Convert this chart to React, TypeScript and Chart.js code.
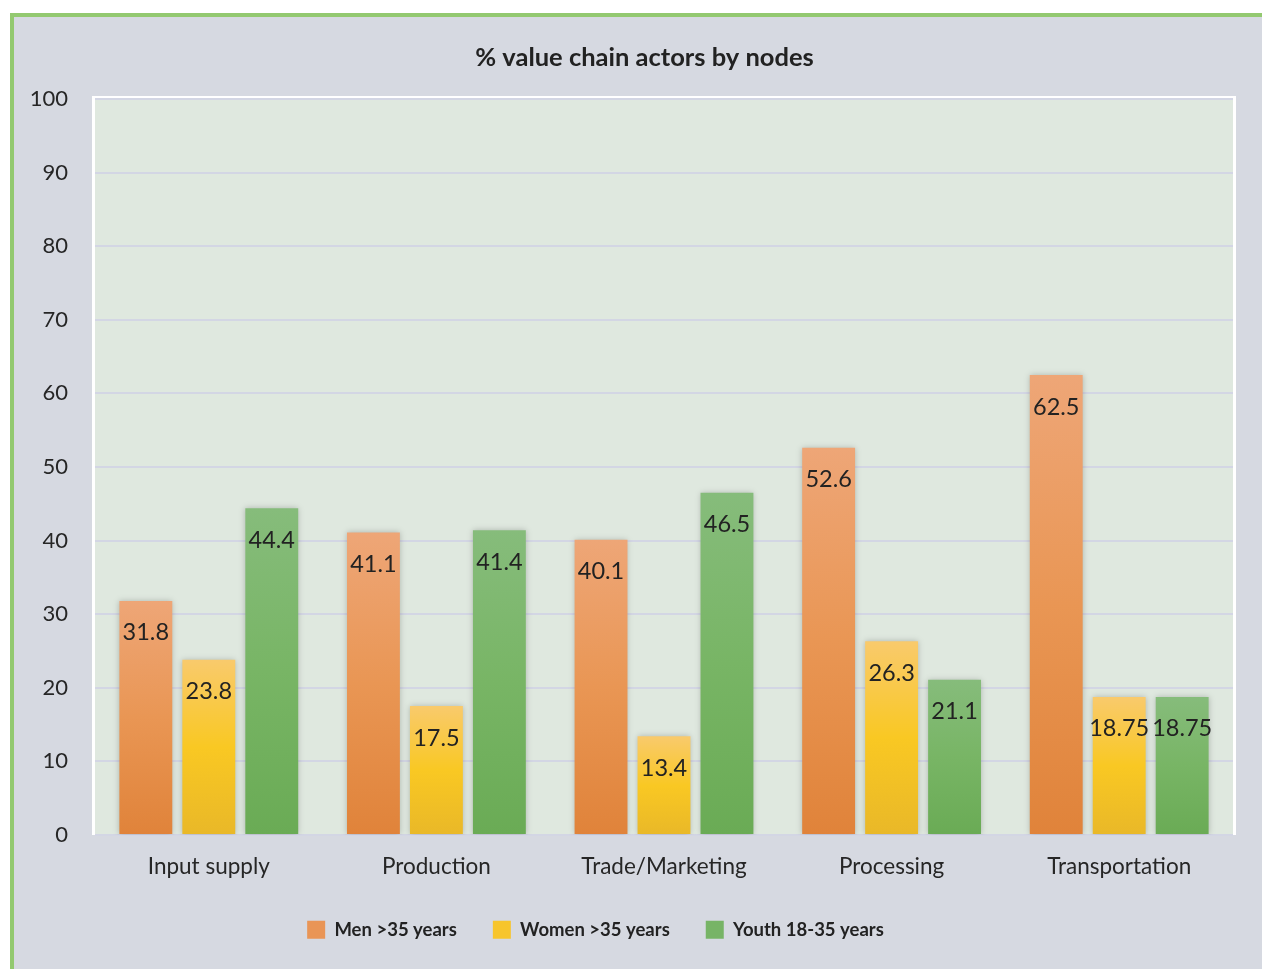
import React, { useEffect, useRef } from "react";
import { Chart, registerables } from "chart.js";

Chart.register(...registerables);

const categories = ["Input supply", "Production", "Trade/Marketing", "Processing", "Transportation"];
const seriesNames = ["Men >35 years", "Women >35 years", "Youth 18-35 years"];
const menValues = [31.8, 41.1, 40.1, 52.6, 62.5];
const womenValues = [23.8, 17.5, 13.4, 26.3, 18.75];
const youthValues = [44.4, 41.4, 46.5, 21.1, 18.75];
const yTicks = [0, 10, 20, 30, 40, 50, 60, 70, 80, 90, 100];
const chartTitle = "% value chain actors by nodes";

const FONT = "Lato, 'Open Sans', sans-serif";

const gradStops: string[][] = [
  ["#eea677", "#e99654", "#e0833a"],
  ["#f9ca6c", "#f9c823", "#e9b828"],
  ["#86bc7b", "#78b565", "#6aab55"],
];
const legendColors = ["#e99556", "#f7c52c", "#77b466"];

function barGradient(ctx: any, dsIndex: number) {
  const chart = ctx.chart;
  const area = chart.chartArea;
  if (!area || ctx.type !== "data") return legendColors[dsIndex];
  const yScale = chart.scales.y;
  const v = ctx.raw as number;
  const top = yScale.getPixelForValue(v);
  const bottom = yScale.getPixelForValue(0);
  const g = chart.ctx.createLinearGradient(0, top, 0, bottom);
  const s = gradStops[dsIndex];
  g.addColorStop(0, s[0]);
  g.addColorStop(0.5, s[1]);
  g.addColorStop(1, s[2]);
  return g;
}

const boxShiftPlugin = {
  id: "boxShift",
  afterLayout(chart: any) {
    const t = chart.titleBlock;
    if (t) {
      t.left += 21;
      t.right += 21;
    }
    const l = chart.legend;
    if (l) {
      l.left -= 28;
      l.right -= 28;
    }
  },
};

const plotBgPlugin = {
  id: "plotBg",
  beforeDraw(chart: any) {
    const { ctx, chartArea } = chart;
    ctx.save();
    ctx.fillStyle = "#dfe8df";
    ctx.fillRect(chartArea.left, chartArea.top, chartArea.right - chartArea.left, chartArea.bottom - chartArea.top);
    ctx.strokeStyle = "#ffffff";
    ctx.lineWidth = 3;
    ctx.beginPath();
    ctx.moveTo(chartArea.left - 1.5, chartArea.bottom);
    ctx.lineTo(chartArea.left - 1.5, chartArea.top - 1.5);
    ctx.lineTo(chartArea.right + 1.5, chartArea.top - 1.5);
    ctx.lineTo(chartArea.right + 1.5, chartArea.bottom);
    ctx.stroke();
    ctx.restore();
  },
  beforeDatasetsDraw(chart: any) {
    const ctx = chart.ctx;
    ctx.save();
    ctx.shadowColor = "rgba(0,0,0,0.22)";
    ctx.shadowBlur = 6;
    ctx.shadowOffsetX = 0;
    ctx.shadowOffsetY = 0;
  },
  afterDatasetsDraw(chart: any) {
    chart.ctx.restore();
  },
};

const valueLabelPlugin = {
  id: "valueLabels",
  afterDraw(chart: any) {
    const ctx = chart.ctx;
    ctx.save();
    ctx.font = `23.5px ${FONT}`;
    ctx.fillStyle = "#222222";
    ctx.textAlign = "center";
    ctx.textBaseline = "middle";
    chart.data.datasets.forEach((ds: any, di: number) => {
      const meta = chart.getDatasetMeta(di);
      meta.data.forEach((bar: any, i: number) => {
        ctx.fillText(String(ds.data[i]), bar.x, bar.y + 32);
      });
    });
    ctx.restore();
  },
};

export default function App() {
  const ref = useRef<HTMLCanvasElement | null>(null);
  useEffect(() => {
    if (!ref.current) return;
    const values = [menValues, womenValues, youthValues];
    const chart = new Chart(ref.current, {
      type: "bar",
      data: {
        labels: categories,
        datasets: values.map((d, di) => ({
          label: seriesNames[di],
          data: d,
          backgroundColor: (ctx: any) => barGradient(ctx, di),
          borderWidth: 0,
          categoryPercentage: 0.83,
          barPercentage: 0.84,
        })),
      },
      options: {
        responsive: false,
        animation: false,
        layout: { padding: { left: 0, right: 29, top: 25, bottom: 20 } },
        plugins: {
          tooltip: { enabled: false },
          title: {
            display: true,
            text: chartTitle,
            color: "#222222",
            font: { family: FONT, size: 25.5, weight: "bold" },
            padding: { top: 0, bottom: 26.4 },
          },
          legend: {
            position: "bottom",
            labels: {
              boxWidth: 18,
              boxHeight: 18,
              padding: 36,
              color: "#222222",
              font: { family: FONT, size: 18.5, weight: "bold" },
              generateLabels: () =>
                seriesNames.map((n, i) => ({
                  text: n,
                  fillStyle: legendColors[i],
                  strokeStyle: legendColors[i],
                  lineWidth: 0,
                  datasetIndex: i,
                  hidden: false,
                  fontColor: "#222222",
                })),
            },
          },
        },
        scales: {
          x: {
            grid: { display: false, drawTicks: false },
            border: { display: false },
            ticks: { color: "#262626", font: { family: FONT, size: 22.5 }, padding: 18.5 },
            afterFit: (s: any) => {
              s.height = 49.6;
            },
          },
          y: {
            min: 0,
            max: 100,
            afterBuildTicks: (s: any) => {
              s.ticks = yTicks.map((v) => ({ value: v }));
            },
            grid: { color: "#d3d6e4", lineWidth: 2, drawTicks: false },
            border: { display: false },
            ticks: { color: "#262626", font: { family: FONT, size: 22 }, padding: 27 },
            afterFit: (s: any) => {
              s.width = 81;
            },
          },
        },
      },
      plugins: [boxShiftPlugin, plotBgPlugin, valueLabelPlugin],
    });
    return () => chart.destroy();
  }, []);

  return (
    <div
      style={{
        position: "fixed",
        left: 10,
        top: 13,
        width: 1252,
        height: 956,
        boxSizing: "border-box",
        borderLeft: "4px solid #93c970",
        borderTop: "4px solid #93c970",
        background: "#d6d9e1",
      }}
    >
      <canvas ref={ref} width={1248} height={952} style={{ display: "block" }} />
    </div>
  );
}
